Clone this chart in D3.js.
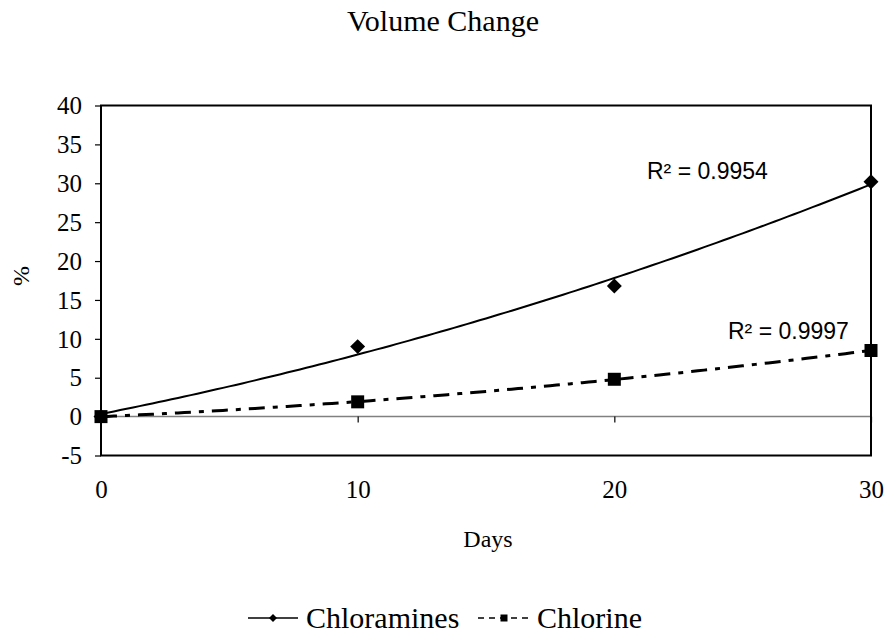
<!DOCTYPE html>
<meta charset="utf-8">
<style>
body{ margin:0; background:#fff; }
text{ font-family:"Liberation Serif","Times New Roman",serif; fill:#000; }
.tick line{ stroke:#000; stroke-width:1.2px; }
.r2{ font-family:"Liberation Sans",Arial,sans-serif; font-size:23px; }
</style>
<body>
<script src="https://d3js.org/d3.v7.min.js"></script>
<script>
// ---------- data ----------
var days = [0, 10, 20, 30];
var chloramines = [0, 9.0, 16.8, 30.2];
var chlorine = [0, 1.9, 4.8, 8.5];
var yTicks = [-5, 0, 5, 10, 15, 20, 25, 30, 35, 40];
var xTicks = [0, 10, 20, 30];
var r2Labels = ["R\u00b2 = 0.9954", "R\u00b2 = 0.9997"];

var W = 886, H = 635;
var svg = d3.select("body").append("svg").attr("width", W).attr("height", H);

var x = d3.scaleLinear().domain([0, 30]).range([101, 871]);
var y = d3.scaleLinear().domain([-5, 40]).range([455.5, 105.5]);

// quadratic least squares (what the trendline shows)
function polyFit(xs, ys) {
  var n = xs.length, s = [0,0,0,0,0], t = [0,0,0];
  for (var i = 0; i < n; i++) {
    for (var k = 0; k < 5; k++) s[k] += Math.pow(xs[i], k);
    for (var k = 0; k < 3; k++) t[k] += ys[i] * Math.pow(xs[i], k);
  }
  var A = [[s[0],s[1],s[2],t[0]],[s[1],s[2],s[3],t[1]],[s[2],s[3],s[4],t[2]]];
  for (var c = 0; c < 3; c++) {
    for (var r = c + 1; r < 3; r++) {
      var f = A[r][c] / A[c][c];
      for (var j = c; j < 4; j++) A[r][j] -= f * A[c][j];
    }
  }
  var b = [0,0,0];
  for (var r = 2; r >= 0; r--) {
    var v = A[r][3];
    for (var j = r + 1; j < 3; j++) v -= A[r][j] * b[j];
    b[r] = v / A[r][r];
  }
  return function(v){ return b[0] + b[1]*v + b[2]*v*v; };
}

// title
svg.append("text").attr("x", 443).attr("y", 31).attr("text-anchor", "middle")
  .style("font-size", "30px").text("Volume Change");

// zero line
svg.append("line").attr("x1", x(0)).attr("x2", x(30)).attr("y1", y(0)).attr("y2", y(0))
  .attr("stroke", "#808080").attr("stroke-width", 1.5);

// y axis
var gy = svg.append("g").attr("transform", "translate(" + x(0) + ",0)")
  .call(d3.axisLeft(y).tickValues(yTicks).tickSize(6).tickPadding(13).tickFormat(String));
gy.select(".domain").remove();
gy.selectAll("text").style("font-size", "25px").attr("dy", "0.33em");

// x axis ticks on the zero line
var gxt = svg.append("g").attr("transform", "translate(0," + y(0) + ")")
  .call(d3.axisBottom(x).tickValues(xTicks).tickSize(6).tickFormat(""));
gxt.select(".domain").remove();

// x labels below the plot
var gx = svg.append("g").attr("transform", "translate(0," + y(-5) + ")")
  .call(d3.axisBottom(x).tickValues(xTicks).tickSize(0).tickPadding(25).tickFormat(String));
gx.select(".domain").remove();
gx.selectAll("text").style("font-size", "25px");

// frame
svg.append("rect").attr("x", x(0)).attr("y", y(40))
  .attr("width", x(30) - x(0)).attr("height", y(-5) - y(40))
  .attr("fill", "none").attr("stroke", "#000").attr("stroke-width", 2);

// axis titles
svg.append("text").attr("x", 488).attr("y", 547).attr("text-anchor", "middle")
  .style("font-size", "24px").text("Days");
svg.append("text").attr("transform", "translate(29,276) rotate(-90)")
  .attr("text-anchor", "middle").style("font-size", "24px").text("%");

// trendlines
var grid = d3.range(0, 30.01, 0.25);
var line = d3.line().x(function(d){ return x(d[0]); }).y(function(d){ return y(d[1]); });
var fitA = polyFit(days, chloramines), fitB = polyFit(days, chlorine);

svg.append("path").datum(grid.map(function(d){ return [d, fitA(d)]; }))
  .attr("d", line).attr("fill", "none").attr("stroke", "#000").attr("stroke-width", 2);
svg.append("path").datum(grid.map(function(d){ return [d, fitB(d)]; }))
  .attr("d", line).attr("fill", "none").attr("stroke", "#000").attr("stroke-width", 3)
  .attr("stroke-dasharray", "16,8,5,8");

// markers
var diamond = d3.symbol().type(d3.symbolSquare).size(112);
var square = d3.symbol().type(d3.symbolSquare).size(169);

svg.selectAll(".ptA").data(days).enter().append("path")
  .attr("d", diamond)
  .attr("transform", function(d, i){ return "translate(" + x(d) + "," + y(chloramines[i]) + ") rotate(45)"; })
  .attr("fill", "#000");
svg.selectAll(".ptB").data(days).enter().append("path")
  .attr("d", square)
  .attr("transform", function(d, i){ return "translate(" + x(d) + "," + y(chlorine[i]) + ")"; })
  .attr("fill", "#000");

// R² labels
svg.append("text").attr("class", "r2").attr("x", 647).attr("y", 179).text(r2Labels[0]);
svg.append("text").attr("class", "r2").attr("x", 728).attr("y", 339).text(r2Labels[1]);

// legend
var lg = svg.append("g");
lg.append("line").attr("x1", 248).attr("x2", 298).attr("y1", 618).attr("y2", 618)
  .attr("stroke", "#000").attr("stroke-width", 1.5);
lg.append("path").attr("d", d3.symbol().type(d3.symbolSquare).size(32))
  .attr("transform", "translate(273,618) rotate(45)").attr("fill", "#000");
lg.append("text").attr("x", 306).attr("y", 628).style("font-size", "30px").text("Chloramines");

lg.append("line").attr("x1", 478).attr("x2", 530).attr("y1", 618).attr("y2", 618)
  .attr("stroke", "#000").attr("stroke-width", 1.5).attr("stroke-dasharray", "6,5");
lg.append("path").attr("d", d3.symbol().type(d3.symbolSquare).size(49))
  .attr("transform", "translate(504,618)").attr("fill", "#000");
lg.append("text").attr("x", 537).attr("y", 628).style("font-size", "30px").text("Chlorine");
</script>
</body>
</html>
